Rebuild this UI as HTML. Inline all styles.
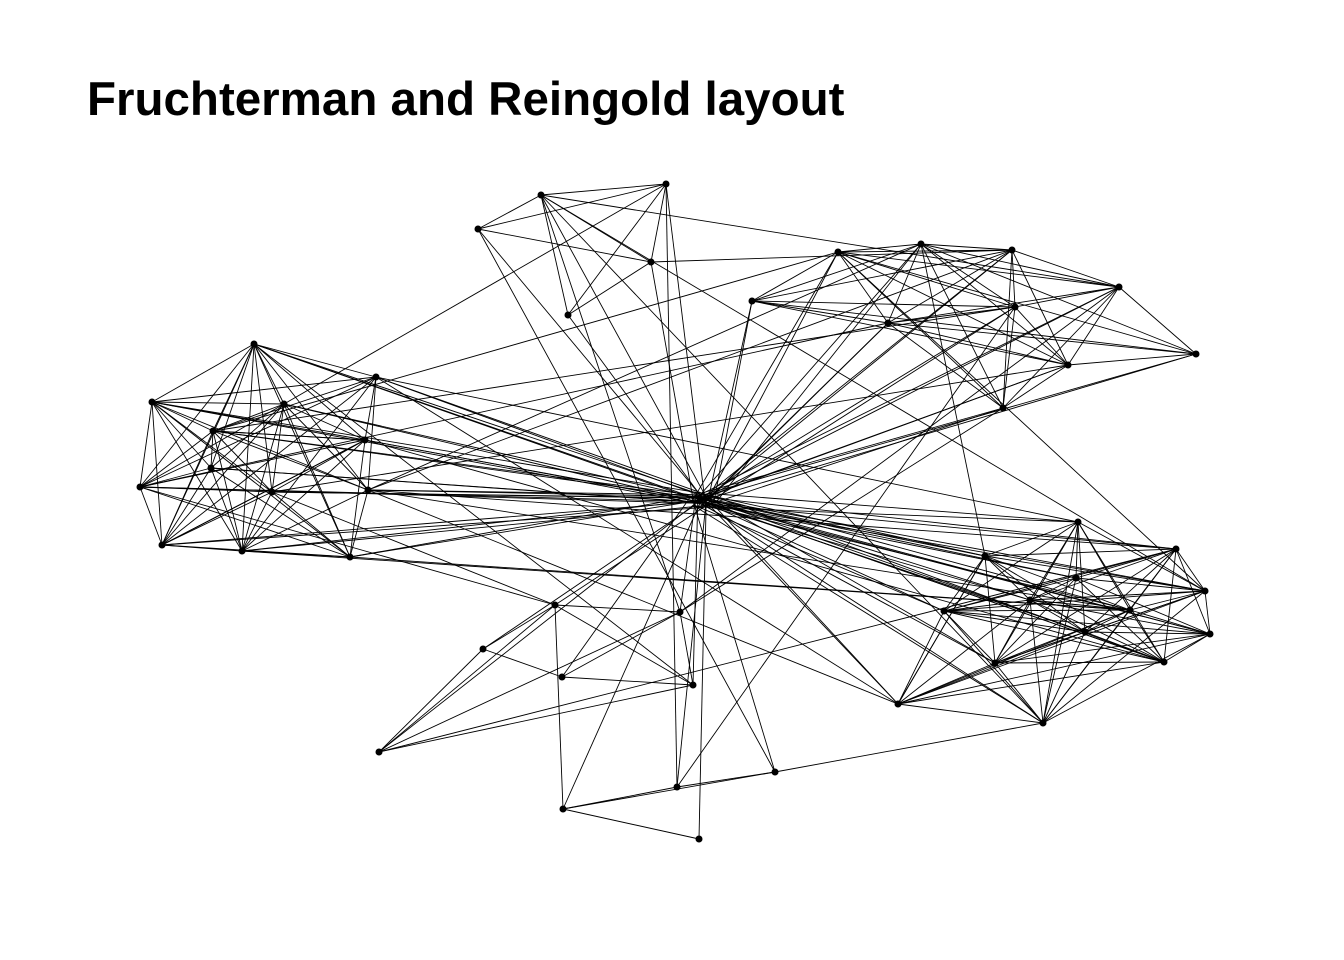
<!DOCTYPE html>
<html><head><meta charset="utf-8"><style>
html,body{margin:0;padding:0;background:#fff;width:1344px;height:960px;overflow:hidden}
h1{position:absolute;left:87px;top:72px;margin:0;font:bold 47.5px "Liberation Sans",Arial,sans-serif;color:#000;white-space:nowrap}
svg{position:absolute;left:0;top:0}
</style></head><body>
<h1>Fruchterman and Reingold layout</h1>
<svg id="g" width="1344" height="960" xmlns="http://www.w3.org/2000/svg"></svg>
<script>
var groups=[
[[541,195],[666,184],[478,229],[651,262],[568,315]],
[[838,252],[921,244],[1012,250],[1119,287],[752,301],[888,323],[1015,307],[1196,354],[1068,365],[1003,408]],
[[254,344],[376,377],[152,402],[284,404],[213,431],[365,440],[211,468],[140,487],[272,492],[368,490],[162,545],[242,551],[350,557]],
[[1078,522],[1176,549],[985,556],[1205,591],[1076,578],[944,611],[1085,632],[1210,634],[995,663],[1164,662],[898,704],[1043,723],[1030,600],[1130,610]],
[[555,605],[680,612],[483,649],[562,677],[693,685],[379,752]],
[[775,772],[677,787],[563,809],[699,839]]];
var s=12345;function r(){s=(s*1103515245+12345)%2147483648;return s/2147483648;}
var L=[],all=[];
groups.forEach(function(g){g.forEach(function(p){all.push(p);
 var hx=690+r()*25,hy=493+r()*15;L.push([p,[hx,hy]]);if(g.length>8)L.push([p,[690+r()*25,493+r()*15]]);});
 for(var i=0;i<g.length;i++)for(var j=i+1;j<g.length;j++)if(r()<0.85)L.push([g[i],g[j]]);});
for(var k=0;k<40;k++){var a=all[Math.floor(r()*all.length)],b=all[Math.floor(r()*all.length)];if(a!==b)L.push([a,b]);}
var out='';
L.forEach(function(l){out+='<line x1="'+l[0][0]+'" y1="'+l[0][1]+'" x2="'+l[1][0]+'" y2="'+l[1][1]+'" stroke="#000" stroke-width="0.9"/>';});
all.concat([[700,500]]).forEach(function(p){out+='<circle cx="'+p[0]+'" cy="'+p[1]+'" r="3.5" fill="#000"/>';});
document.getElementById('g').innerHTML=out;
</script>
</body></html>
